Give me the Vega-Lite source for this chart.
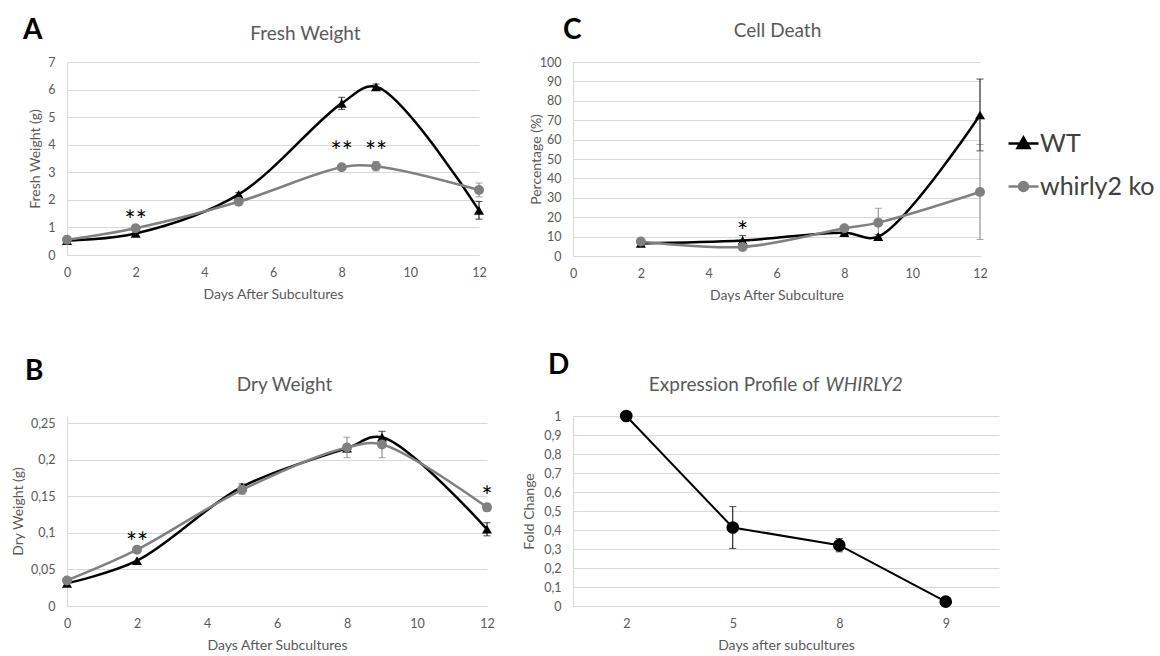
{
  "$schema": "https://vega.github.io/schema/vega-lite/v6.json",
  "padding": {"left": 11, "top": 17, "right": 3, "bottom": 5},
  "config": {
    "font": "Lato",
    "view": {"stroke": null},
    "axis": {
      "labelFont": "Lato", "labelFontSize": 12.5, "labelColor": "#595959", "labelFlush": false,
      "titleFont": "Lato", "titleFontSize": 14, "titleFontWeight": "normal", "titleColor": "#595959",
      "domainColor": "#d9d9d9", "domainWidth": 1, "gridColor": "#d9d9d9", "gridWidth": 1,
      "ticks": false
    },
    "axisX": {"grid": false, "labelPadding": 11, "titlePadding": 9},
    "axisY": {"grid": true, "labelPadding": 12, "titleBaseline": "middle"},
    "legend": {"labelFont": "Lato", "labelFontSize": 25, "labelColor": "#404040", "labelOffset": 0, "symbolSize": 900, "symbolStrokeWidth": 2.5, "symbolOpacity": 1, "padding": 0},
    "title": {"font": "Lato", "fontSize": 28, "fontWeight": "bold", "color": "#000000", "anchor": "start", "frame": "group", "baseline": "alphabetic", "offset": 0}
  },
  "resolve": {"legend": {"color": "independent", "fill": "independent", "shape": "independent"}},
  "datasets": {
    "fresh": [
      {"day": 0, "genotype": "WT", "value": 0.52, "err": 0.03},
      {"day": 2, "genotype": "WT", "value": 0.78, "err": 0.05},
      {"day": 5, "genotype": "WT", "value": 2.2, "err": 0.06},
      {"day": 8, "genotype": "WT", "value": 5.5, "err": 0.22},
      {"day": 9, "genotype": "WT", "value": 6.1, "err": 0.1},
      {"day": 12, "genotype": "WT", "value": 1.62, "err": 0.32},
      {"day": 0, "genotype": "whirly2 ko", "value": 0.55, "err": 0.03},
      {"day": 2, "genotype": "whirly2 ko", "value": 0.97, "err": 0.04},
      {"day": 5, "genotype": "whirly2 ko", "value": 1.93, "err": 0.06},
      {"day": 8, "genotype": "whirly2 ko", "value": 3.18, "err": 0.1},
      {"day": 9, "genotype": "whirly2 ko", "value": 3.22, "err": 0.17},
      {"day": 12, "genotype": "whirly2 ko", "value": 2.36, "err": 0.25}
    ],
    "freshStars": [
      {"day": 2, "y": 1.45, "label": "**"},
      {"day": 8, "y": 3.95, "label": "**"},
      {"day": 9, "y": 3.95, "label": "**"}
    ],
    "dry": [
      {"day": 0, "genotype": "WT", "value": 0.031, "err": 0},
      {"day": 2, "genotype": "WT", "value": 0.062, "err": 0},
      {"day": 5, "genotype": "WT", "value": 0.163, "err": 0.004},
      {"day": 8, "genotype": "WT", "value": 0.216, "err": 0.005},
      {"day": 9, "genotype": "WT", "value": 0.231, "err": 0.008},
      {"day": 12, "genotype": "WT", "value": 0.105, "err": 0.009},
      {"day": 0, "genotype": "whirly2 ko", "value": 0.035, "err": 0},
      {"day": 2, "genotype": "whirly2 ko", "value": 0.077, "err": 0},
      {"day": 5, "genotype": "whirly2 ko", "value": 0.159, "err": 0.006},
      {"day": 8, "genotype": "whirly2 ko", "value": 0.217, "err": 0.014},
      {"day": 9, "genotype": "whirly2 ko", "value": 0.221, "err": 0.018},
      {"day": 12, "genotype": "whirly2 ko", "value": 0.135, "err": 0.005}
    ],
    "dryStars": [
      {"day": 2, "y": 0.095, "label": "**"},
      {"day": 12, "y": 0.158, "label": "*"}
    ],
    "death": [
      {"day": 2, "genotype": "WT", "value": 6.5, "err": 1},
      {"day": 5, "genotype": "WT", "value": 8, "err": 2.5},
      {"day": 8, "genotype": "WT", "value": 12, "err": 1},
      {"day": 9, "genotype": "WT", "value": 10, "err": 1},
      {"day": 12, "genotype": "WT", "value": 72.7, "err": 18.5},
      {"day": 2, "genotype": "whirly2 ko", "value": 7.5, "err": 1},
      {"day": 5, "genotype": "whirly2 ko", "value": 4.7, "err": 1},
      {"day": 8, "genotype": "whirly2 ko", "value": 14.3, "err": 1},
      {"day": 9, "genotype": "whirly2 ko", "value": 17.2, "err": 7.4},
      {"day": 12, "genotype": "whirly2 ko", "value": 33, "err": 24.5}
    ],
    "deathStars": [
      {"day": 5, "y": 15.5, "label": "*"}
    ],
    "expr": [
      {"day": "2", "value": 1.0, "err": 0},
      {"day": "5", "value": 0.413, "err": 0.11},
      {"day": "8", "value": 0.32, "err": 0.035},
      {"day": "9", "value": 0.023, "err": 0}
    ]
  },
  "columns": 2,
  "spacing": {"row": 48, "column": 27},
  "concat": [
    {
      "width": 412, "height": 193,
      "title": {"text": "A", "dx": -44, "dy": 25},
      "data": {"name": "fresh"},
      "resolve": {"axis": {"x": "independent", "y": "independent"}},
      "layer": [
        {
          "mark": {"type": "line", "interpolate": "catmull-rom", "strokeWidth": 2.5},
          "encoding": {
            "x": {"field": "day", "type": "quantitative", "scale": {"domain": [0, 12]}, "axis": {"values": [0, 2, 4, 6, 8, 10, 12], "title": "Days After Subcultures"}},
            "y": {"field": "value", "type": "quantitative", "scale": {"domain": [0, 7]}, "axis": {"values": [0, 1, 2, 3, 4, 5, 6, 7], "title": "Fresh Weight (g)", "titleX": -32}},
            "color": {"field": "genotype", "type": "nominal", "scale": {"domain": ["WT", "whirly2 ko"], "range": ["#000000", "#808080"]}, "legend": null}
          }
        },
        {
          "transform": [{"filter": "datum.err > 0"}],
          "mark": {"type": "errorbar", "ticks": true, "size": 7, "thickness": 1},
          "encoding": {
            "x": {"field": "day", "type": "quantitative", "axis": null},
            "y": {"field": "value", "type": "quantitative", "axis": null},
            "yError": {"field": "err"},
            "color": {"field": "genotype", "type": "nominal", "legend": null}
          }
        },
        {
          "mark": {"type": "point", "filled": true, "opacity": 1, "size": 100},
          "encoding": {
            "x": {"field": "day", "type": "quantitative", "axis": {"orient": "top", "title": "Fresh Weight", "labels": false, "domain": false, "grid": false, "titleX": 238, "titleY": -22.7, "titleAlign": "center", "titleBaseline": "alphabetic", "titleAngle": 0, "titleFontSize": 19}},
            "y": {"field": "value", "type": "quantitative", "axis": null},
            "color": {"field": "genotype", "type": "nominal", "legend": null},
            "shape": {"field": "genotype", "type": "nominal", "scale": {"domain": ["WT", "whirly2 ko"], "range": ["triangle-up", "circle"]}, "legend": null}
          }
        },
        {
          "data": {"name": "freshStars"},
          "mark": {"type": "text", "fontSize": 26, "baseline": "alphabetic", "dy": 15, "color": "#000000"},
          "encoding": {
            "x": {"field": "day", "type": "quantitative", "axis": null},
            "y": {"field": "y", "type": "quantitative", "axis": null},
            "text": {"field": "label"}
          }
        }
      ]
    },
    {
      "width": 407, "height": 194,
      "title": {"text": "C", "dx": -10, "dy": 28},
      "data": {"name": "death"},
      "resolve": {"axis": {"x": "independent", "y": "independent"}},
      "layer": [
        {
          "mark": {"type": "line", "interpolate": "catmull-rom", "strokeWidth": 2.5},
          "encoding": {
            "x": {"field": "day", "type": "quantitative", "scale": {"domain": [0, 12]}, "axis": {"values": [0, 2, 4, 6, 8, 10, 12], "title": "Days After Subculture"}},
            "y": {"field": "value", "type": "quantitative", "scale": {"domain": [0, 100]}, "axis": {"values": [0, 10, 20, 30, 40, 50, 60, 70, 80, 90, 100], "title": "Percentage (%)", "titleX": -37}},
            "color": {
              "field": "genotype", "type": "nominal",
              "legend": {
                "orient": "none", "legendX": 434, "legendY": 65, "title": null,
                "values": ["WT"],
                "symbolType": "M-1,0H1M0,-0.4L0.4,0.3L-0.4,0.3Z",
                "symbolFillColor": "#000000",
                "symbolOpacity": 1
              }
            }
          }
        },
        {
          "transform": [{"filter": "datum.err > 0"}],
          "mark": {"type": "errorbar", "ticks": true, "size": 7, "thickness": 1},
          "encoding": {
            "x": {"field": "day", "type": "quantitative", "axis": null},
            "y": {"field": "value", "type": "quantitative", "axis": null},
            "yError": {"field": "err"},
            "color": {"field": "genotype", "type": "nominal"}
          }
        },
        {
          "transform": [{"filter": "datum.genotype === 'WT'"}],
          "mark": {"type": "point", "filled": true, "opacity": 1, "size": 100, "shape": "triangle-up"},
          "encoding": {
            "x": {"field": "day", "type": "quantitative", "axis": {"orient": "top", "title": "Cell Death", "labels": false, "domain": false, "grid": false, "titleX": 204, "titleY": -26, "titleAlign": "center", "titleBaseline": "alphabetic", "titleAngle": 0, "titleFontSize": 19}},
            "y": {"field": "value", "type": "quantitative", "axis": null},
            "fill": {
              "field": "genotype", "type": "nominal",
              "scale": {"domain": ["whirly2 ko", "WT"], "range": ["#808080", "#000000"]},
              "legend": {
                "orient": "none", "legendX": 434, "legendY": 108, "title": null,
                "values": ["whirly2 ko"],
                "symbolType": "M-1,0H1M0.3,0A0.3,0.3,0,1,1,-0.3,0A0.3,0.3,0,1,1,0.3,0Z",
                "symbolStrokeColor": "#808080",
                "symbolOpacity": 1
              }
            }
          }
        },
        {
          "transform": [{"filter": "datum.genotype === 'whirly2 ko'"}],
          "mark": {"type": "point", "filled": true, "opacity": 1, "size": 100, "shape": "circle"},
          "encoding": {
            "x": {"field": "day", "type": "quantitative", "axis": null},
            "y": {"field": "value", "type": "quantitative", "axis": null},
            "fill": {"field": "genotype", "type": "nominal"}
          }
        },
        {
          "data": {"name": "deathStars"},
          "mark": {"type": "text", "fontSize": 26, "baseline": "alphabetic", "dy": 15, "color": "#000000"},
          "encoding": {
            "x": {"field": "day", "type": "quantitative", "axis": null},
            "y": {"field": "y", "type": "quantitative", "axis": null},
            "text": {"field": "label"}
          }
        }
      ]
    },
    {
      "width": 420, "height": 190,
      "title": {"text": "B", "dx": -42, "dy": 14},
      "data": {"name": "dry"},
      "resolve": {"axis": {"x": "independent", "y": "independent"}},
      "layer": [
        {
          "mark": {"type": "line", "interpolate": "catmull-rom", "strokeWidth": 2.5},
          "encoding": {
            "x": {"field": "day", "type": "quantitative", "scale": {"domain": [0, 12]}, "axis": {"values": [0, 2, 4, 6, 8, 10, 12], "title": "Days After Subcultures"}},
            "y": {"field": "value", "type": "quantitative", "scale": {"domain": [0, 0.25]}, "axis": {"values": [0, 0.05, 0.1, 0.15, 0.2, 0.25], "labelExpr": "replace(format(datum.value, '~g'), '.', ',')", "title": "Dry Weight (g)", "titleX": -49}},
            "color": {"field": "genotype", "type": "nominal", "legend": null}
          }
        },
        {
          "transform": [{"filter": "datum.err > 0"}],
          "mark": {"type": "errorbar", "ticks": true, "size": 7, "thickness": 1},
          "encoding": {
            "x": {"field": "day", "type": "quantitative", "axis": null},
            "y": {"field": "value", "type": "quantitative", "axis": null},
            "yError": {"field": "err"},
            "color": {"field": "genotype", "type": "nominal", "legend": null}
          }
        },
        {
          "mark": {"type": "point", "filled": true, "opacity": 1, "size": 100},
          "encoding": {
            "x": {"field": "day", "type": "quantitative", "axis": {"orient": "top", "title": "Dry Weight", "labels": false, "domain": false, "grid": false, "titleX": 217, "titleY": -25.3, "titleAlign": "center", "titleBaseline": "alphabetic", "titleAngle": 0, "titleFontSize": 19}},
            "y": {"field": "value", "type": "quantitative", "axis": null},
            "color": {"field": "genotype", "type": "nominal", "legend": null},
            "shape": {"field": "genotype", "type": "nominal", "legend": null}
          }
        },
        {
          "data": {"name": "dryStars"},
          "mark": {"type": "text", "fontSize": 26, "baseline": "alphabetic", "dy": 15, "color": "#000000"},
          "encoding": {
            "x": {"field": "day", "type": "quantitative", "axis": null},
            "y": {"field": "y", "type": "quantitative", "axis": null},
            "text": {"field": "label"}
          }
        }
      ]
    },
    {
      "width": 426, "height": 190,
      "title": {"text": "D", "dx": -25, "dy": 8},
      "data": {"name": "expr"},
      "resolve": {"axis": {"x": "independent", "y": "independent"}},
      "layer": [
        {
          "mark": {"type": "line", "color": "#000000", "strokeWidth": 2},
          "encoding": {
            "x": {"field": "day", "type": "ordinal", "sort": ["2", "5", "8", "9"], "scale": {"type": "point", "padding": 0.5}, "axis": {"labelAngle": 0, "title": "Days after subcultures"}},
            "y": {"field": "value", "type": "quantitative", "scale": {"domain": [0, 1]}, "axis": {"values": [0, 0.1, 0.2, 0.3, 0.4, 0.5, 0.6, 0.7, 0.8, 0.9, 1], "labelExpr": "replace(format(datum.value, '~g'), '.', ',')", "title": "Fold Change", "titleX": -43.5}}
          }
        },
        {
          "transform": [{"filter": "datum.err > 0"}],
          "mark": {"type": "errorbar", "ticks": true, "size": 7, "thickness": 1, "color": "#000000"},
          "encoding": {
            "x": {"field": "day", "type": "ordinal", "sort": ["2", "5", "8", "9"], "axis": null},
            "y": {"field": "value", "type": "quantitative", "axis": null},
            "yError": {"field": "err"}
          }
        },
        {
          "mark": {"type": "point", "filled": true, "opacity": 1, "size": 160, "color": "#000000", "shape": "circle"},
          "encoding": {
            "x": {"field": "day", "type": "ordinal", "sort": ["2", "5", "8", "9"], "axis": {"orient": "top", "title": "Expression Profile of", "labels": false, "domain": false, "grid": false, "titleX": 246, "titleY": -25.3, "titleAlign": "right", "titleBaseline": "alphabetic", "titleAngle": 0, "titleFontSize": 19}},
            "y": {"field": "value", "type": "quantitative", "axis": {"orient": "right", "title": "WHIRLY2", "labels": false, "domain": false, "grid": false, "titleX": -174, "titleY": -25.3, "titleAlign": "left", "titleBaseline": "alphabetic", "titleAngle": 0, "titleFontSize": 19, "titleFontStyle": "italic"}}
          }
        }
      ]
    }
  ]
}
